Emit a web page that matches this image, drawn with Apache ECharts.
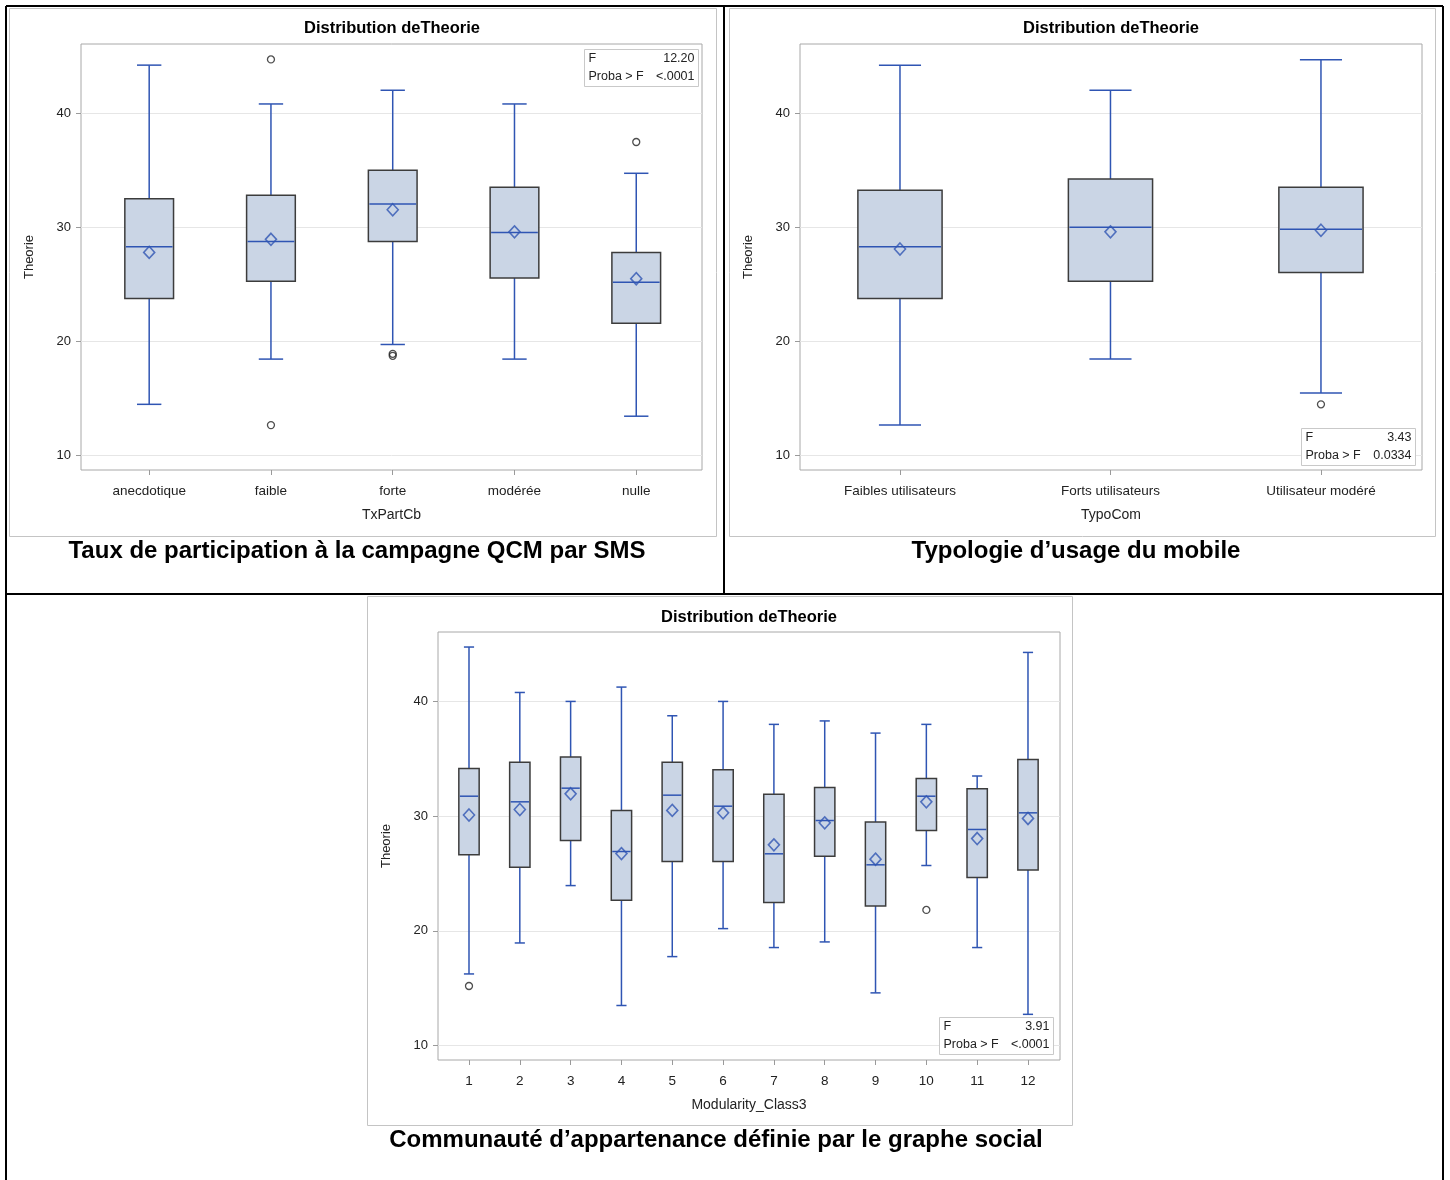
<!DOCTYPE html>
<html>
<head>
<meta charset="utf-8">
<script src="https://cdn.jsdelivr.net/npm/echarts@6/dist/echarts.min.js"></script>
<style>
  html, body { margin: 0; padding: 0; background: #fff; }
  #main { width: 1450px; height: 1180px; }
</style>
</head>
<body>
<div id="main"></div>
<script>
// --- data ---
// box values: [min whisker, Q1, median, Q3, max whisker]
// outliers: [category index, value]
const catsA = ['anecdotique', 'faible', 'forte', 'modérée', 'nulle'];
const boxA = [
  [14.5, 23.76, 28.3, 32.5, 44.2],
  [18.46, 25.27, 28.75, 32.8, 40.8],
  [19.74, 28.75, 32.03, 35.0, 42.0],
  [18.46, 25.56, 29.54, 33.5, 40.8],
  [13.46, 21.6, 25.2, 27.8, 34.73]
];
const meanA = [27.8, 28.95, 31.54, 29.6, 25.5];
const outA = [[1, 44.7], [1, 12.68], [2, 18.92], [2, 18.75], [4, 37.47]];

const catsB = ['Faibles utilisateurs', 'Forts utilisateurs', 'Utilisateur modéré'];
const boxB = [
  [12.68, 23.76, 28.3, 33.25, 44.2],
  [18.46, 25.27, 30.0, 34.24, 42.0],
  [15.5, 26.05, 29.83, 33.5, 44.68]
];
const meanB = [28.1, 29.6, 29.74];
const outB = [[2, 14.5]];

const catsC = ['1', '2', '3', '4', '5', '6', '7', '8', '9', '10', '11', '12'];
const boxC = [
  [16.25, 26.63, 31.74, 34.16, 44.74],
  [18.95, 25.55, 31.25, 34.7, 40.78],
  [23.95, 27.88, 32.44, 35.15, 40.0],
  [13.5, 22.67, 26.92, 30.5, 41.25],
  [17.76, 26.05, 31.83, 34.7, 38.75],
  [20.2, 26.05, 30.87, 34.04, 40.0],
  [18.55, 22.47, 26.72, 31.92, 38.0],
  [19.04, 26.5, 29.62, 32.5, 38.3],
  [14.6, 22.18, 25.76, 29.5, 37.24],
  [25.7, 28.75, 31.74, 33.28, 38.0],
  [18.55, 24.65, 28.84, 32.4, 33.5],
  [12.73, 25.3, 30.29, 34.94, 44.27]
];
const meanC = [30.1, 30.58, 31.95, 26.74, 30.5, 30.29, 27.5, 29.42, 26.25, 31.25, 28.05, 29.8];
const outC = [[0, 15.2], [9, 21.83]];

const yTicks = [10, 20, 30, 40];
const statsA = ['12.20', '<.0001'];
const statsB = ['3.43', '0.0334'];
const statsC = ['3.91', '<.0001'];

// --- styles ---
const BLUE = '#2f55b3';
const FILL = '#cad5e5';
const EDGE = '#3c3c3c';
const FONT = '"Liberation Sans", Arial, sans-serif';

const chart = echarts.init(document.getElementById('main'), null, { renderer: 'canvas' });

function boxItem(params, api) {
  const x = api.value(0);
  const unit = api.size([1, 0])[0];
  const bw = unit * 0.4;
  const cw = unit * 0.2;
  const lo = api.coord([x, api.value(1)]);
  const q1 = api.coord([x, api.value(2)]);
  const md = api.coord([x, api.value(3)]);
  const q3 = api.coord([x, api.value(4)]);
  const hi = api.coord([x, api.value(5)]);
  const cx = lo[0];
  const ls = { stroke: BLUE, lineWidth: 1.5 };
  return {
    type: 'group',
    children: [
      { type: 'line', shape: { x1: cx, y1: hi[1], x2: cx, y2: lo[1] }, style: ls },
      { type: 'line', shape: { x1: cx - cw / 2, y1: hi[1], x2: cx + cw / 2, y2: hi[1] }, style: ls },
      { type: 'line', shape: { x1: cx - cw / 2, y1: lo[1], x2: cx + cw / 2, y2: lo[1] }, style: ls },
      { type: 'rect', shape: { x: cx - bw / 2, y: q3[1], width: bw, height: q1[1] - q3[1] },
        style: { fill: FILL, stroke: EDGE, lineWidth: 1.5 } },
      { type: 'line', shape: { x1: cx - bw / 2 + 1, y1: md[1], x2: cx + bw / 2 - 1, y2: md[1] }, style: ls }
    ]
  };
}

function xAxisOf(idx, cats, offset, min, max, name) {
  return {
    type: 'value', gridIndex: idx, min: min, max: max,
    name: name, nameLocation: 'middle', nameGap: 38,
    nameTextStyle: { fontFamily: FONT, fontSize: 14, color: '#222' },
    axisLine: { show: false, onZero: false },
    axisTick: { show: true, length: 5, lineStyle: { color: '#9a9a9a' },
      customValues: cats.map((c, i) => i + offset) },
    axisLabel: { fontFamily: FONT, fontSize: 13.5, color: '#222', margin: 14,
      customValues: cats.map((c, i) => i + offset),
      formatter: v => cats[Math.round(v) - offset] },
    splitLine: { show: false }
  };
}

function yAxisOf(idx) {
  return {
    type: 'value', gridIndex: idx, min: 8.75, max: 46.05,
    name: 'Theorie', nameLocation: 'middle', nameGap: 45,
    nameTextStyle: { fontFamily: FONT, fontSize: 13, color: '#222' },
    axisLine: { show: false, onZero: false },
    axisTick: { show: true, length: 5, lineStyle: { color: '#9a9a9a' }, customValues: yTicks },
    axisLabel: { fontFamily: FONT, fontSize: 13, color: '#222', margin: 10, customValues: yTicks },
    splitLine: { show: true, lineStyle: { color: '#e6e6e6', width: 1 } }
  };
}

function seriesOf(idx, boxes, means, outs, offset) {
  return [
    {
      type: 'custom', xAxisIndex: idx, yAxisIndex: idx,
      renderItem: boxItem,
      encode: { x: 0, y: [1, 2, 3, 4, 5] },
      data: boxes.map((b, i) => [i + offset].concat(b)),
      silent: true
    },
    {
      type: 'scatter', xAxisIndex: idx, yAxisIndex: idx,
      symbol: 'diamond', symbolSize: [11, 12],
      itemStyle: { color: 'rgba(0,0,0,0)', borderColor: BLUE, borderWidth: 1.6 },
      data: means.map((m, i) => [i + offset, m]),
      z: 5, silent: true
    },
    {
      type: 'scatter', xAxisIndex: idx, yAxisIndex: idx,
      symbol: 'circle', symbolSize: 7,
      itemStyle: { color: 'rgba(0,0,0,0)', borderColor: '#222', borderWidth: 1.3 },
      data: outs.map(o => [o[0] + offset, o[1]]),
      z: 5, silent: true
    }
  ];
}

// the F-test inset, drawn above the grid lines
function statsBox(x, y, vals) {
  const t = { fontFamily: FONT, fontSize: 12.5, fill: '#222' };
  const top = { zlevel: 2, z: 100 };
  return [
    Object.assign({ type: 'rect', shape: { x: x, y: y, width: 114, height: 37 },
      style: { fill: '#fff', stroke: '#c9c9c9', lineWidth: 1 } }, top),
    Object.assign({ type: 'text', x: x + 4, y: y + 9,
      style: Object.assign({ text: 'F', verticalAlign: 'middle' }, t) }, top),
    Object.assign({ type: 'text', x: x + 110, y: y + 9,
      style: Object.assign({ text: vals[0], align: 'right', verticalAlign: 'middle' }, t) }, top),
    Object.assign({ type: 'text', x: x + 4, y: y + 27,
      style: Object.assign({ text: 'Proba > F', verticalAlign: 'middle' }, t) }, top),
    Object.assign({ type: 'text', x: x + 110, y: y + 27,
      style: Object.assign({ text: vals[1], align: 'right', verticalAlign: 'middle' }, t) }, top)
  ];
}

function label(x, y, text, size) {
  return {
    type: 'text', x: x, y: y, z: 20,
    style: { text: text, align: 'center', verticalAlign: 'middle',
      fontFamily: FONT, fontWeight: 'bold', fontSize: size, fill: '#000' }
  };
}

function frame(x1, y1, x2, y2) {
  return { type: 'line', shape: { x1: x1, y1: y1, x2: x2, y2: y2 },
    style: { stroke: '#000', lineWidth: 2 }, zlevel: 2 };
}

function panel(x, y, w, h) {
  return { type: 'rect', shape: { x: x, y: y, width: w, height: h },
    style: { fill: 'none', stroke: '#c4c4c4', lineWidth: 1 }, z: 1 };
}

const option = {
  animation: false,
  backgroundColor: '#fff',
  grid: [
    { left: 81, top: 44, width: 621, height: 426, show: true, borderColor: '#a8a8a8', borderWidth: 1, backgroundColor: '#fff' },
    { left: 800, top: 44, width: 622, height: 426, show: true, borderColor: '#a8a8a8', borderWidth: 1, backgroundColor: '#fff' },
    { left: 438, top: 632, width: 622, height: 428, show: true, borderColor: '#a8a8a8', borderWidth: 1, backgroundColor: '#fff' }
  ],
  xAxis: [
    xAxisOf(0, catsA, 0, -0.56, 4.54, 'TxPartCb'),
    xAxisOf(1, catsB, 0, -0.475, 2.48, 'TypoCom'),
    xAxisOf(2, catsC, 1, 0.39, 12.63, 'Modularity_Class3')
  ],
  yAxis: [yAxisOf(0), yAxisOf(1), yAxisOf(2)],
  series: [].concat(
    seriesOf(0, boxA, meanA, outA, 0),
    seriesOf(1, boxB, meanB, outB, 0),
    seriesOf(2, boxC, meanC, outC, 1)
  ),
  graphic: [].concat(
    [
      panel(9.5, 8.5, 707, 528),
      panel(729.5, 8.5, 706, 528),
      panel(367.5, 596.5, 705, 529),
      label(392, 28, 'Distribution deTheorie', 16.5),
      label(1111, 28, 'Distribution deTheorie', 16.5),
      label(749, 617, 'Distribution deTheorie', 16.5),
      label(357, 551, 'Taux de participation à la campagne QCM par SMS', 24),
      label(1076, 551, 'Typologie d\u2019usage du mobile', 24),
      label(716, 1140, 'Communauté d\u2019appartenance définie par le graphe social', 24)
    ],
    statsBox(584.5, 49.5, statsA),
    statsBox(1301.5, 428.5, statsB),
    statsBox(939.5, 1017.5, statsC),
    [
      frame(6, 6, 1443, 6),
      frame(6, 6, 6, 1180),
      frame(1443, 6, 1443, 1180),
      frame(724, 6, 724, 594),
      frame(6, 594, 1443, 594)
    ]
  )
};

chart.setOption(option);
</script>
</body>
</html>
